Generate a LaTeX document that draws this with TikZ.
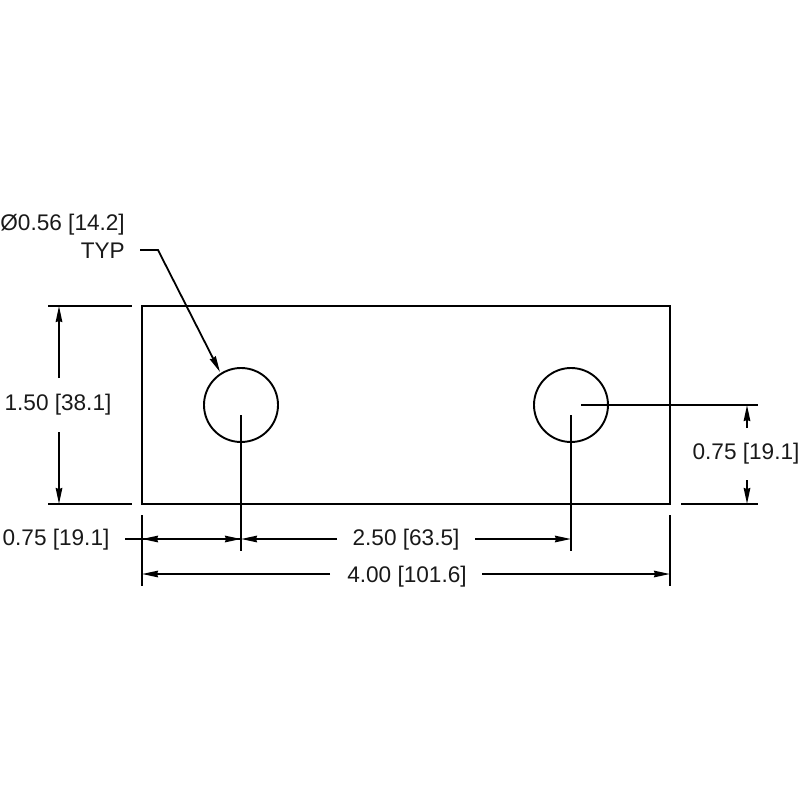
\documentclass[tikz,border=0pt]{standalone}
\usepackage{fontspec}
\setmainfont{Liberation Sans}
\usetikzlibrary{arrows.meta}
\tikzset{
  part/.style={line width=1.9pt,black},
  dimline/.style={line width=1.8pt,black},
  tip/.style={-{Stealth[length=16pt,width=6.5pt,inset=1pt]}},
  dimtext/.style={inner sep=0pt,font=\fontsize{22.6}{27}\selectfont,text=black!90}
}
\begin{document}
\begin{tikzpicture}[x=1pt,y=-1pt]
\useasboundingbox (0,0) rectangle (800,800);
% part
\node[part,draw,outer sep=0pt,minimum width=528pt,minimum height=198pt,inner sep=0pt,anchor=north west] (plate) at (142,306) {};
\node[part,draw,circle,outer sep=0pt,minimum size=74pt,inner sep=0pt] (holeA) at (241,405) {};
\node[part,draw,circle,outer sep=0pt,minimum size=74pt,inner sep=0pt] (holeB) at (571,405) {};
% labels
\node[dimtext,anchor=east] (dia) at (125,225) {Ø0.56 [14.2]};
\node[dimtext,anchor=east] (typ) at (125,251) {TYP};
\node[dimtext] (hgt) at (58,405) {1.50 [38.1]};
\node[dimtext] (xa) at (56,540) {0.75 [19.1]};
\node[dimtext] (xb) at (406,540) {2.50 [63.5]};
\node[dimtext] (wid) at (407,577) {4.00 [101.6]};
\node[dimtext] (ya) at (746,454) {0.75 [19.1]};
% coordinates
\coordinate (lead0) at (140,250);
\coordinate (lead1) at (158,250);
\coordinate (leadtip) at (220,372);
\coordinate (hT0) at (48,306); \coordinate (hT1) at (132,306);
\coordinate (hB0) at (48,504); \coordinate (hB1) at (132,504);
\coordinate (hTa) at (59,306); \coordinate (hTb) at (59,378);
\coordinate (hBa) at (59,504); \coordinate (hBb) at (59,432);
\coordinate (eL0) at (142,515); \coordinate (eL1) at (142,586);
\coordinate (eR0) at (670,515); \coordinate (eR1) at (670,586);
\coordinate (eA0) at (241,415); \coordinate (eA1) at (241,551);
\coordinate (eB0) at (571,415); \coordinate (eB1) at (571,551);
\coordinate (rT0) at (581,405); \coordinate (rT1) at (758,405);
\coordinate (rB0) at (681,504); \coordinate (rB1) at (758,504);
\coordinate (rTa) at (747,405); \coordinate (rTb) at (747,428);
\coordinate (rBa) at (747,504); \coordinate (rBb) at (747,480);
\coordinate (x0) at (125,539); \coordinate (xL) at (142,539);
\coordinate (xA) at (241,539); \coordinate (xBa) at (337,539);
\coordinate (xBb) at (475,539); \coordinate (xB) at (571,539);
\coordinate (wL) at (142,574); \coordinate (wLb) at (330,574);
\coordinate (wR) at (670,574); \coordinate (wRb) at (482,574);
% leader
\draw[dimline,tip] (lead0) -- (lead1) -- (leadtip);
% height dimension
\draw[dimline] (hT0) -- (hT1);
\draw[dimline] (hB0) -- (hB1);
\draw[dimline,tip] (hTb) -- (hTa);
\draw[dimline,tip] (hBb) -- (hBa);
% extension lines
\draw[dimline] (eL0) -- (eL1);
\draw[dimline] (eR0) -- (eR1);
\draw[dimline] (eA0) -- (eA1);
\draw[dimline] (eB0) -- (eB1);
\draw[dimline] (rT0) -- (rT1);
\draw[dimline] (rB0) -- (rB1);
% right dimension
\draw[dimline,tip] (rTb) -- (rTa);
\draw[dimline,tip] (rBb) -- (rBa);
% horizontal dims
\draw[dimline] (x0) -- (xL);
\draw[dimline,tip] (xA) -- (xL);
\draw[dimline,tip] (xL) -- (xA);
\draw[dimline,tip] (xBa) -- (xA);
\draw[dimline,tip] (xBb) -- (xB);
\draw[dimline,tip] (wLb) -- (wL);
\draw[dimline,tip] (wRb) -- (wR);
\end{tikzpicture}
\end{document}
